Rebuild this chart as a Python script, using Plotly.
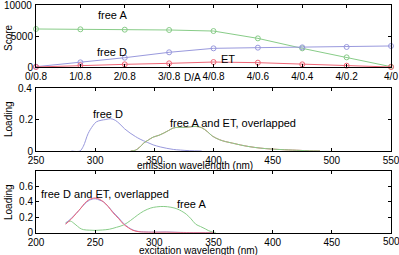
import plotly.graph_objects as go

# ---- data ----
ratio_labels = ["0/0.8", "1/0.8", "2/0.8", "3/0.8", "4/0.8", "4/0.6", "4/0.4", "4/0.2", "4/0"]
score_freeA = [6130, 6080, 6020, 5970, 5800, 4620, 3010, 1560, 50]
score_freeD = [50, 750, 1500, 2370, 3010, 3120, 3170, 3230, 3390]
score_ET = [0, 270, 430, 590, 800, 700, 430, 210, 0]

em_D_wl = [280, 287, 290, 294, 298, 301, 305, 309, 313, 317, 321, 325, 329.5, 334, 338, 344, 349, 355, 360.5, 366, 372, 380, 390]
em_D_val = [0, 0, 0.03, 0.11, 0.16, 0.185, 0.195, 0.2, 0.205, 0.195, 0.17, 0.14, 0.114, 0.092, 0.075, 0.055, 0.039, 0.026, 0.017, 0.01, 0.006, 0.002, 0]

em_AET_wl = [330, 334, 337, 341, 345, 349, 354, 358, 362, 366, 370, 375, 380, 385, 390, 395, 399, 405, 410, 416, 423, 430, 440, 448, 460, 473, 481, 490]
em_A_val = [0, 0.005, 0.02, 0.05, 0.07, 0.088, 0.1, 0.114, 0.13, 0.146, 0.15, 0.15, 0.153, 0.156, 0.148, 0.122, 0.095, 0.072, 0.06, 0.05, 0.038, 0.028, 0.018, 0.013, 0.008, 0.004, 0.001, 0]
em_ET_val = [0, 0.005, 0.02, 0.05, 0.07, 0.088, 0.1, 0.114, 0.13, 0.146, 0.15, 0.15, 0.153, 0.156, 0.148, 0.122, 0.095, 0.072, 0.06, 0.05, 0.038, 0.028, 0.018, 0.013, 0.008, 0.004, 0.001, 0]

ex_DET_wl = [225, 230, 234, 238, 241, 245, 250, 254, 257, 261, 265, 270, 274, 278, 282, 287, 291, 300, 310, 320, 330, 350]
ex_D_val = [0.12, 0.19, 0.25, 0.32, 0.37, 0.42, 0.44, 0.42, 0.40, 0.34, 0.27, 0.19, 0.12, 0.07, 0.035, 0.015, 0.01, 0.008, 0.01, 0.005, 0.002, 0]
ex_ET_val = [0.11, 0.18, 0.25, 0.32, 0.38, 0.43, 0.45, 0.43, 0.40, 0.34, 0.26, 0.18, 0.11, 0.065, 0.03, 0.012, 0.008, 0.005, 0.006, 0.003, 0.001, 0]

ex_A_wl = [225, 229, 233, 237, 240, 245, 250, 256, 262, 268, 274, 280, 286, 291, 297, 302, 308, 314, 319, 323, 327, 331, 335, 339, 343, 346, 349, 352]
ex_A_val = [0.13, 0.15, 0.11, 0.06, 0.04, 0.033, 0.03, 0.035, 0.045, 0.07, 0.1, 0.16, 0.23, 0.28, 0.32, 0.335, 0.34, 0.33, 0.31, 0.28, 0.24, 0.18, 0.11, 0.08, 0.05, 0.025, 0.01, 0]

score_ticks = [0, 5000, 10000]
em_loading_ticks = [0, 0.2, 0.4]
ex_loading_ticks = [0, 0.2, 0.4, 0.6]
em_wl_ticks = [250, 300, 350, 400, 450, 500, 550]
ex_wl_ticks = [200, 250, 300, 350, 400, 450, 500]

GREEN = "#88cc88"
BLUE = "#9999dd"
RED = "#ee6677"
FONT = "Liberation Sans, Arial, sans-serif"

fig = go.Figure()

# panel 1
x_idx = list(range(len(ratio_labels)))
for vals, col in [(score_freeA, GREEN), (score_freeD, BLUE), (score_ET, RED)]:
    fig.add_trace(go.Scatter(x=x_idx, y=vals, mode="lines+markers", xaxis="x", yaxis="y",
                             line=dict(color=col, width=1),
                             marker=dict(symbol="circle-open", size=5, color=col, line=dict(width=1)),
                             showlegend=False, cliponaxis=False))

# panel 2
fig.add_trace(go.Scatter(x=em_D_wl, y=em_D_val, mode="lines", xaxis="x2", yaxis="y2",
                         line=dict(color=BLUE, width=1, shape="spline"), showlegend=False))
fig.add_trace(go.Scatter(x=em_AET_wl, y=em_ET_val, mode="lines", xaxis="x2", yaxis="y2",
                         line=dict(color=RED, width=1, shape="spline"), showlegend=False))
fig.add_trace(go.Scatter(x=em_AET_wl, y=em_A_val, mode="lines", xaxis="x2", yaxis="y2",
                         line=dict(color=GREEN, width=1, shape="spline"), showlegend=False))

# panel 3
fig.add_trace(go.Scatter(x=ex_A_wl, y=ex_A_val, mode="lines", xaxis="x3", yaxis="y3",
                         line=dict(color=GREEN, width=1, shape="spline"), showlegend=False))
fig.add_trace(go.Scatter(x=ex_DET_wl, y=ex_D_val, mode="lines", xaxis="x3", yaxis="y3",
                         line=dict(color=BLUE, width=1, shape="spline"), showlegend=False))
fig.add_trace(go.Scatter(x=ex_DET_wl, y=ex_ET_val, mode="lines", xaxis="x3", yaxis="y3",
                         line=dict(color=RED, width=1, shape="spline"), showlegend=False))

W, H = 399, 255
def px(x):
    return x / W
def py(y):
    return 1 - y / H

def labels(vals, hide_last=False):
    out = [("%g" % v) for v in vals]
    if hide_last:
        out[-1] = ""
    return out

XD = [px(36), px(391)]
ax_common = dict(showline=True, linecolor="black", linewidth=1, mirror="ticks", ticks="inside",
                 ticklen=3, tickcolor="black", showgrid=False, zeroline=False, automargin=False,
                 ticklabeloverflow="allow",
                 tickfont=dict(size=10, color="black", family=FONT))

fig.update_layout(
    width=W, height=H, margin=dict(l=0, r=0, t=0, b=0, autoexpand=False),
    paper_bgcolor="white", plot_bgcolor="white",
    font=dict(family=FONT, size=10, color="black"),
    xaxis=dict(domain=XD, anchor="y", range=[0, 8], tickmode="array", tickvals=x_idx,
               ticktext=ratio_labels, **ax_common),
    yaxis=dict(domain=[py(67), py(5)], anchor="x", range=[0, 10000], tickvals=score_ticks,
               ticktext=labels(score_ticks, True), **ax_common),
    xaxis2=dict(domain=XD, anchor="y2", range=[250, 550], tickvals=em_wl_ticks,
                ticktext=labels(em_wl_ticks), **ax_common),
    yaxis2=dict(domain=[py(151), py(88)], anchor="x2", range=[0, 0.4], tickvals=em_loading_ticks,
                ticktext=labels(em_loading_ticks, True), **ax_common),
    xaxis3=dict(domain=XD, anchor="y3", range=[200, 500], tickvals=ex_wl_ticks,
                ticktext=labels(ex_wl_ticks, True), **ax_common),
    yaxis3=dict(domain=[py(232.7), py(171)], anchor="x3", range=[0, 0.8], tickvals=ex_loading_ticks,
                ticktext=labels(ex_loading_ticks), **ax_common),
)

def ann(text, x, y, size=10, angle=0, xanchor="center"):
    fig.add_annotation(text=text, x=px(x), y=py(y), xref="paper", yref="paper", showarrow=False,
                       font=dict(size=size, color="black", family=FONT), textangle=angle,
                       xanchor=xanchor, yanchor="middle")

# end-of-axis tick labels (placed as text so they are not dropped at the figure edge)
ann("%g" % score_ticks[-1], 34, 5, 10, xanchor="right")
ann("%g" % em_loading_ticks[-1], 34, 88, 10, xanchor="right")
ann("%g" % ex_wl_ticks[-1], 391, 241, 10)

ann("free A", 112, 15, 11)
ann("free D", 112, 52, 11)
ann("ET", 228, 59, 11)
ann("D/A", 192, 77, 10)
ann("Score", 8, 38, 10, -90)

ann("free D", 108, 114, 11)
ann("free A and ET, overlapped", 233, 123, 11)
ann("emission wavelength (nm)", 195, 165, 10)
ann("Loading", 8, 119, 10, -90)

ann("free D and ET, overlapped", 105, 194, 11)
ann("free A", 191, 204, 11)
ann("excitation wavelength (nm)", 198, 250, 10)
ann("Loading", 8, 202, 10, -90)

fig.write_html("out.html", config={"displayModeBar": False},
               post_script="document.body.style.margin='0';document.body.style.padding='0';document.body.style.overflow='hidden';")
